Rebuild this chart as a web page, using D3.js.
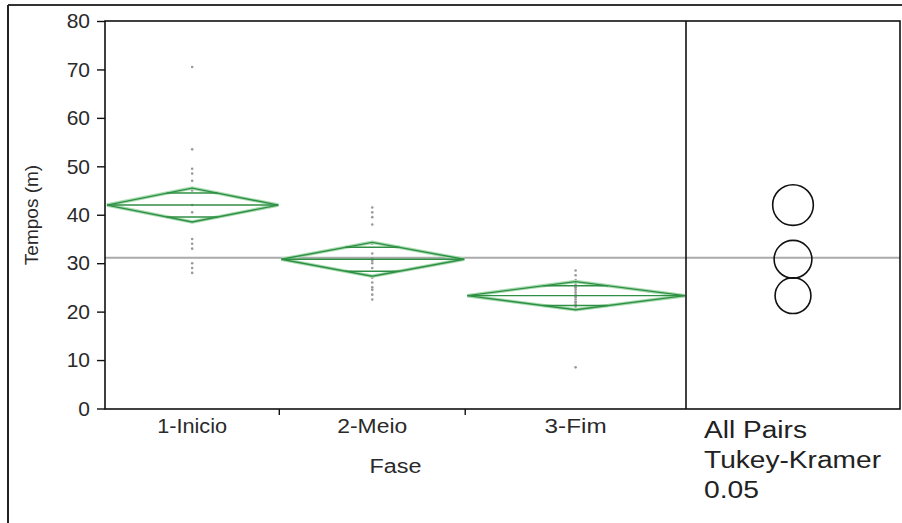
<!DOCTYPE html>
<html><head><meta charset="utf-8">
<script src="https://cdn.jsdelivr.net/npm/d3@7/dist/d3.min.js"></script>
<style>body{margin:0;background:#fff}svg{display:block}text{font-family:"Liberation Sans",Arial,sans-serif}</style>
</head><body><svg id="c" width="902" height="523"></svg>
<script>
const categories = ["1-Inicio", "2-Meio", "3-Fim"];
const valsInicio = [70.5, 53.5, 49.5, 48.5, 47, 45, 42, 40.5, 38.5, 35, 34, 33, 30, 29, 28];
const valsMeio = [41.5, 40.5, 39.5, 38, 34, 32, 31, 30.5, 30, 29, 27, 26, 25, 24.5, 23.5, 22.5];
const valsFim = [28.5, 27.5, 26.5, 26, 25.5, 25, 25, 24.5, 24, 23.5, 23, 23, 22.5, 22, 22, 21.5, 21, 20.5, 8.5];
const means = [42.0, 30.8, 23.3];
const ciHalf = [3.5, 3.5, 2.9];
const circleRadius = [4.2, 3.9, 3.7];
const grandMean = 31.1;
const yTicks = [0, 10, 20, 30, 40, 50, 60, 70, 80];
const testLabel = ["All Pairs", "Tukey-Kramer", "0.05"];

const groups = [valsInicio, valsMeio, valsFim];
const svg = d3.select("#c");
const L = 105, R = 900, T = 21, B = 409, SPLIT = 686;
const catLabelW = [70, 70, 62];
const testLabelW = [103, 177, 55];

const y = d3.scaleLinear().domain([0, 80]).range([408.5, T]);
// band widths proportional to group size
const counts = groups.map(g => g.length);
const total = d3.sum(counts);
const cum = [0]; counts.forEach((c, i) => cum.push(cum[i] + c));
const x = d3.scaleLinear().domain([0, total]).range([L, SPLIT]);
const bands = categories.map((c, i) => ({ name: c, x0: x(cum[i]), x1: x(cum[i + 1]) }));

// outer frame
svg.append("line").attr("x1", 8).attr("x2", 902).attr("y1", 5).attr("y2", 5).attr("stroke", "#333").attr("stroke-width", 2);
svg.append("line").attr("x1", 8).attr("x2", 8).attr("y1", 5).attr("y2", 523).attr("stroke", "#222").attr("stroke-width", 2);

// grand mean
svg.append("line").attr("x1", L).attr("x2", R).attr("y1", y(grandMean)).attr("y2", y(grandMean))
  .attr("stroke", "#aaa").attr("stroke-width", 2);

// points
groups.forEach((g, i) => {
  const cx = (bands[i].x0 + bands[i].x1) / 2;
  svg.append("g").selectAll("circle").data(g).join("circle")
    .attr("cx", cx).attr("cy", d => y(d)).attr("r", 1.3).attr("fill", "#999");
});

// diamonds
means.forEach((m, i) => {
  const b = bands[i];
  const cx = (b.x0 + b.x1) / 2;
  const top = y(m + ciHalf[i]), bot = y(m - ciHalf[i]), my = y(m);
  const pts = [[b.x0 + 2, my], [cx, top], [b.x1 - 1, my], [cx, bot]];
  const g = svg.append("g");
  const path = "M" + pts.map(p => p.join(",")).join("L") + "Z";
  g.append("path").attr("d", path).attr("fill", "none").attr("stroke", "#a8dcb0").attr("stroke-width", 3.5);
  g.append("path").attr("d", path).attr("fill", "none").attr("stroke", "#2f8f45").attr("stroke-width", 1.4);
  g.append("line").attr("x1", b.x0 + 2).attr("x2", b.x1 - 1).attr("y1", my).attr("y2", my)
    .attr("stroke", "#2f8f45").attr("stroke-width", 1.4);
  const off = ciHalf[i] / Math.SQRT2;
  [m + off, m - off].forEach(v => {
    const frac = 1 - off / ciHalf[i];
    const hw = (b.x1 - b.x0) / 2 * frac;
    g.append("line").attr("x1", cx - hw).attr("x2", cx + hw).attr("y1", y(v)).attr("y2", y(v))
      .attr("stroke", "#2f8f45").attr("stroke-width", 1.4);
  });
});

// comparison circles
const ccx = 793;
means.forEach((m, i) => {
  svg.append("circle").attr("cx", ccx).attr("cy", y(m)).attr("r", y(0) - y(circleRadius[i]))
    .attr("fill", "none").attr("stroke", "#111").attr("stroke-width", 1.6);
});

// frame
svg.append("rect").attr("x", L).attr("y", T).attr("width", R - L).attr("height", B - T)
  .attr("fill", "none").attr("stroke", "#111").attr("stroke-width", 1.6);
svg.append("line").attr("x1", SPLIT).attr("x2", SPLIT).attr("y1", T).attr("y2", B).attr("stroke", "#111").attr("stroke-width", 1.6);

// y axis
const ya = svg.append("g").attr("transform", `translate(${L},0)`)
  .call(d3.axisLeft(y).tickValues(yTicks).tickSize(8).tickPadding(7));
ya.select(".domain").remove();
ya.selectAll("line").attr("stroke", "#111").attr("stroke-width", 1.4);
ya.selectAll("text").attr("font-size", 21).attr("fill", "#2a2a2a").attr("font-family", "Liberation Sans, Arial, sans-serif");

svg.append("text").attr("transform", `translate(38,${(T + B) / 2}) rotate(-90)`)
  .attr("text-anchor", "middle").attr("font-size", 19).attr("fill", "#2a2a2a").text("Tempos (m)");

// x ticks at band boundaries
bands.slice(1).forEach(b => {
  svg.append("line").attr("x1", b.x0).attr("x2", b.x0).attr("y1", B).attr("y2", B + 6).attr("stroke", "#111").attr("stroke-width", 1.4);
});
bands.forEach((b, i) => {
  svg.append("text").attr("x", (b.x0 + b.x1) / 2 - catLabelW[i] / 2).attr("y", 433)
    .attr("font-size", 20).attr("fill", "#2a2a2a")
    .attr("textLength", catLabelW[i]).attr("lengthAdjust", "spacingAndGlyphs").text(b.name);
});
svg.append("text").attr("x", (L + SPLIT) / 2 - 26).attr("y", 473)
  .attr("font-size", 20).attr("fill", "#2a2a2a")
  .attr("textLength", 52).attr("lengthAdjust", "spacingAndGlyphs").text("Fase");

testLabel.forEach((t, i) => {
  svg.append("text").attr("x", 704).attr("y", 438 + i * 30).attr("font-size", 23).attr("fill", "#222")
    .attr("textLength", testLabelW[i]).attr("lengthAdjust", "spacingAndGlyphs").text(t);
});
</script></body></html>
